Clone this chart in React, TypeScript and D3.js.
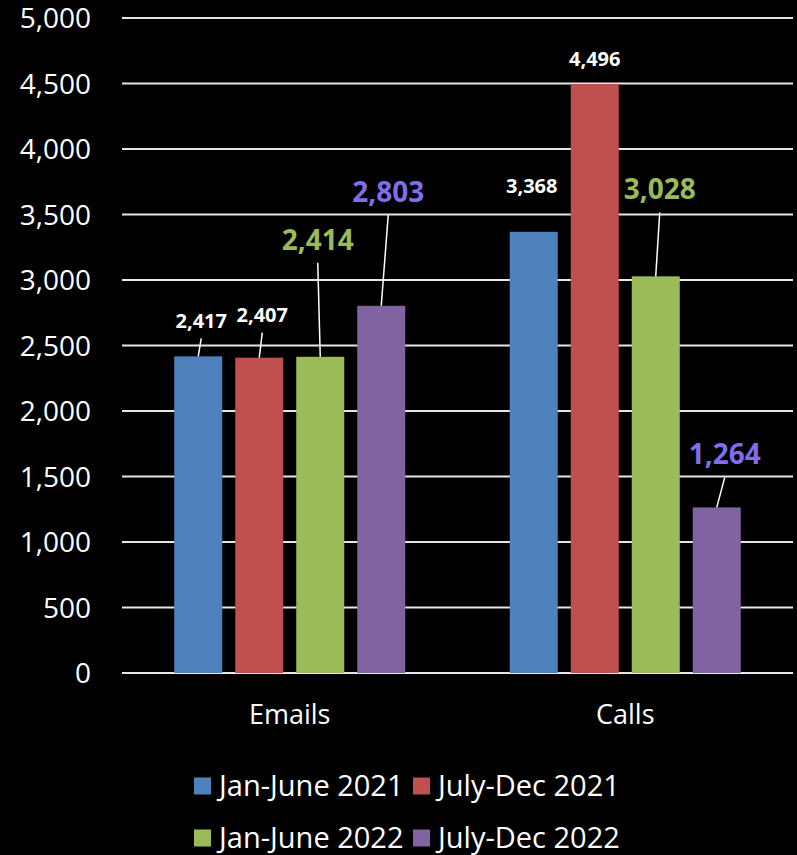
import React from "react";
import * as d3 from "d3";

const categories = ["Emails", "Calls"];
const seriesNames = ["Jan-June 2021", "July-Dec 2021", "Jan-June 2022", "July-Dec 2022"];
const seriesColors = ["#4F81BD", "#C0504D", "#9BBB59", "#8064A2"];
const labelColors = ["#FFFFFF", "#FFFFFF", "#9BBB59", "#7F6EE8"];
const labelSizes = [20, 20, 28, 28];
const emailsValues = [2417, 2407, 2414, 2803];
const callsValues = [3368, 4496, 3028, 1264];
const yTicks = [0, 500, 1000, 1500, 2000, 2500, 3000, 3500, 4000, 4500, 5000];

// label offsets (dx, dy) from the top-centre of each bar, and whether a leader is drawn
const labelOffsets = [
  [[3, -36, 1], [3, -43, 1], [-2.5, -117, 1], [7, -114, 1]],
  [[-2, -46, 0], [0, -25, 0], [4, -87, 1], [8, -53, 1]],
];

const W = 797;
const H = 855;
const FONT = "'Open Sans', 'Noto Sans', sans-serif";

export default function App() {
  const values = [emailsValues, callsValues];
  const y = d3.scaleLinear().domain([0, 5000]).range([673, 18]);
  const x0 = d3.scaleBand<string>().domain(categories).range([122, 793]);
  const bw = x0.bandwidth();
  const groupW = 231;
  const x1 = d3
    .scaleBand<string>()
    .domain(seriesNames)
    .range([(bw - groupW) / 2, (bw + groupW) / 2])
    .paddingInner(13 / 61);
  const fmt = d3.format(",");

  return (
    <svg
      width={W}
      height={H}
      style={{ position: "absolute", left: 0, top: 0, background: "#000" }}
      fontFamily={FONT}
    >
      <rect x={0} y={0} width={W} height={H} fill="#000" />
      {yTicks.map((t) => (
        <g key={t}>
          <line x1={122} x2={793} y1={y(t)} y2={y(t)} stroke="#E6E6E6" strokeWidth={2} />
          <text x={91} y={y(t)} dy="0.36em" textAnchor="end" fill="#fff" fontSize={28}>
            {fmt(t)}
          </text>
        </g>
      ))}
      {categories.map((c, ci) => (
        <g key={c}>
          {seriesNames.map((s, si) => {
            const v = values[ci][si];
            const bx = (x0(c) as number) + (x1(s) as number);
            return (
              <rect
                key={s}
                x={bx}
                y={y(v)}
                width={x1.bandwidth()}
                height={y(0) - y(v)}
                fill={seriesColors[si]}
              />
            );
          })}
          <text
            x={(x0(c) as number) + bw / 2}
            y={714}
            dy="0.36em"
            textAnchor="middle"
            fill="#fff"
            fontSize={27}
          >
            {c}
          </text>
        </g>
      ))}
      {categories.map((c, ci) =>
        seriesNames.map((s, si) => {
          const v = values[ci][si];
          const cx = (x0(c) as number) + (x1(s) as number) + x1.bandwidth() / 2;
          const top = y(v);
          const [dx, dy, leader] = labelOffsets[ci][si];
          const lx = cx + dx;
          const ly = top + dy;
          const fs = labelSizes[si];
          const half = fs === 28 ? 23 : 18;
          return (
            <g key={c + s}>
              {leader ? (
                <line x1={lx} y1={ly + half} x2={cx} y2={top} stroke="#fff" strokeWidth={1.5} />
              ) : null}
              <text
                x={lx}
                y={ly}
                dy="0.36em"
                textAnchor="middle"
                fill={labelColors[si]}
                fontSize={fs}
                fontWeight="bold"
              >
                {fmt(v)}
              </text>
            </g>
          );
        })
      )}
      {seriesNames.map((s, si) => {
        const col = si % 2;
        const row = Math.floor(si / 2);
        const sx = col === 0 ? 194 : 413;
        const cy = row === 0 ? 786 : 838;
        return (
          <g key={s}>
            <rect x={sx} y={cy - 8.5} width={17} height={17} fill={seriesColors[si]} />
            <text x={sx + 25} y={cy} dy="0.36em" fill="#fff" fontSize={29}>
              {s}
            </text>
          </g>
        );
      })}
    </svg>
  );
}
